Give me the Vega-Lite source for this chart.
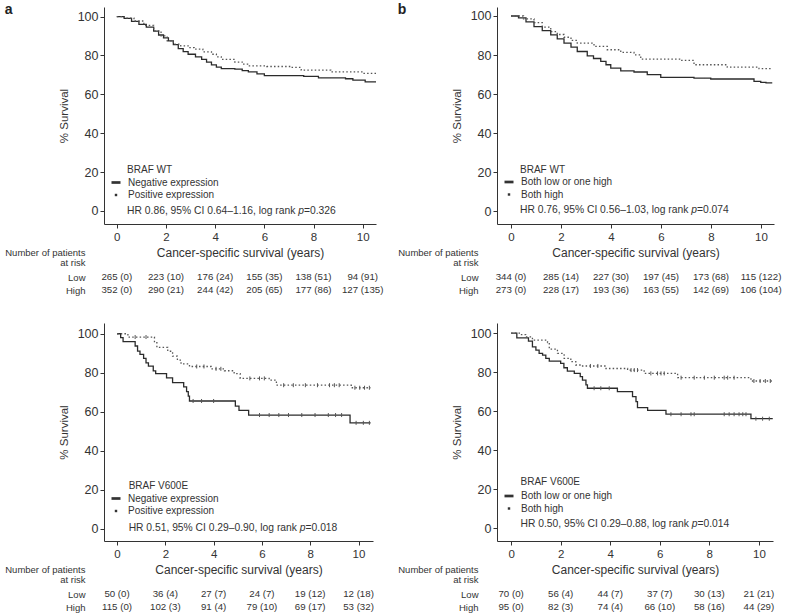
{
  "$schema": "https://vega.github.io/schema/vega-lite/v6.json",
  "background": "white",
  "padding": {"left": 4, "top": 3, "right": 0, "bottom": 0},
  "config": {
    "font": "Liberation Sans",
    "view": {"stroke": null},
    "axis": {"grid": false, "domainColor": "#333", "tickColor": "#333", "labelColor": "#333", "titleColor": "#333", "tickSize": 4, "titleFontWeight": "normal", "labelFont": "Liberation Sans", "titleFont": "Liberation Sans"},
    "legend": {"symbolSize": 81, "symbolStrokeWidth": 0, "symbolFillColor": "#333", "symbolOpacity": 1, "labelFontSize": 10, "labelOffset": 7, "rowPadding": 2.5, "padding": 0, "labelColor": "#333", "labelFont": "Liberation Sans"},
    "text": {"font": "Liberation Sans", "color": "#333"},
    "title": {"font": "Liberation Sans", "color": "#222"}
  },
  "datasets": {
    "ka1": [
      {"t":0,"s":100,"g":"Negative expression"},{"t":0.3,"s":99,"g":"Negative expression"},{"t":0.6,"s":97.5,"g":"Negative expression"},{"t":0.9,"s":96,"g":"Negative expression"},{"t":1.2,"s":94.5,"g":"Negative expression"},{"t":1.5,"s":92.5,"g":"Negative expression"},{"t":1.7,"s":90.5,"g":"Negative expression"},{"t":1.9,"s":89,"g":"Negative expression"},{"t":2.1,"s":87.5,"g":"Negative expression"},{"t":2.3,"s":85.5,"g":"Negative expression"},{"t":2.5,"s":83.5,"g":"Negative expression"},{"t":2.7,"s":82,"g":"Negative expression"},{"t":2.9,"s":80.6,"g":"Negative expression"},{"t":3.2,"s":79.3,"g":"Negative expression"},{"t":3.45,"s":78,"g":"Negative expression"},{"t":3.65,"s":76.5,"g":"Negative expression"},{"t":3.85,"s":75.1,"g":"Negative expression"},{"t":4.05,"s":74,"g":"Negative expression"},{"t":4.25,"s":73.2,"g":"Negative expression"},{"t":4.8,"s":72.9,"g":"Negative expression"},{"t":5.1,"s":72.2,"g":"Negative expression"},{"t":5.35,"s":71.5,"g":"Negative expression"},{"t":5.7,"s":70.5,"g":"Negative expression"},{"t":6.0,"s":69.6,"g":"Negative expression"},{"t":7.6,"s":69.2,"g":"Negative expression"},{"t":8.2,"s":68.5,"g":"Negative expression"},{"t":9.3,"s":68.0,"g":"Negative expression"},{"t":9.6,"s":67.3,"g":"Negative expression"},{"t":10.1,"s":66.4,"g":"Negative expression"},{"t":10.54,"s":66.4,"g":"Negative expression"},
      {"t":0,"s":100,"g":"Positive expression"},{"t":0.3,"s":99.2,"g":"Positive expression"},{"t":0.7,"s":97.7,"g":"Positive expression"},{"t":1.1,"s":95.5,"g":"Positive expression"},{"t":1.5,"s":92.6,"g":"Positive expression"},{"t":1.8,"s":90,"g":"Positive expression"},{"t":2.05,"s":87.5,"g":"Positive expression"},{"t":2.3,"s":85.8,"g":"Positive expression"},{"t":2.6,"s":84.9,"g":"Positive expression"},{"t":2.9,"s":84,"g":"Positive expression"},{"t":3.15,"s":83.2,"g":"Positive expression"},{"t":3.5,"s":81.8,"g":"Positive expression"},{"t":3.85,"s":80.6,"g":"Positive expression"},{"t":4.05,"s":79.3,"g":"Positive expression"},{"t":4.25,"s":78,"g":"Positive expression"},{"t":4.8,"s":76.6,"g":"Positive expression"},{"t":5.1,"s":75.5,"g":"Positive expression"},{"t":5.35,"s":74.6,"g":"Positive expression"},{"t":6.1,"s":74.3,"g":"Positive expression"},{"t":7.1,"s":73.8,"g":"Positive expression"},{"t":7.5,"s":72.4,"g":"Positive expression"},{"t":8.7,"s":71.5,"g":"Positive expression"},{"t":10.0,"s":70.8,"g":"Positive expression"},{"t":10.54,"s":70.8,"g":"Positive expression"}
    ],
    "kb1": [
      {"t":0,"s":100,"g":"Both low or one high"},{"t":0.3,"s":99,"g":"Both low or one high"},{"t":0.6,"s":97,"g":"Both low or one high"},{"t":0.92,"s":94.5,"g":"Both low or one high"},{"t":1.25,"s":92.5,"g":"Both low or one high"},{"t":1.59,"s":90.3,"g":"Both low or one high"},{"t":1.85,"s":88.3,"g":"Both low or one high"},{"t":2.12,"s":86.1,"g":"Both low or one high"},{"t":2.4,"s":84,"g":"Both low or one high"},{"t":2.65,"s":81.8,"g":"Both low or one high"},{"t":3.05,"s":79.6,"g":"Both low or one high"},{"t":3.3,"s":78.2,"g":"Both low or one high"},{"t":3.59,"s":76.7,"g":"Both low or one high"},{"t":3.8,"s":75,"g":"Both low or one high"},{"t":3.99,"s":73.3,"g":"Both low or one high"},{"t":4.39,"s":71.9,"g":"Both low or one high"},{"t":4.92,"s":71.3,"g":"Both low or one high"},{"t":5.45,"s":69.9,"g":"Both low or one high"},{"t":5.99,"s":68.5,"g":"Both low or one high"},{"t":7.32,"s":68.2,"g":"Both low or one high"},{"t":7.99,"s":67.7,"g":"Both low or one high"},{"t":9.72,"s":66.5,"g":"Both low or one high"},{"t":9.99,"s":66,"g":"Both low or one high"},{"t":10.2,"s":65.7,"g":"Both low or one high"},{"t":10.45,"s":65.7,"g":"Both low or one high"},
      {"t":0,"s":100,"g":"Both high"},{"t":0.5,"s":98.5,"g":"Both high"},{"t":0.92,"s":96.6,"g":"Both high"},{"t":1.25,"s":94.3,"g":"Both high"},{"t":1.59,"s":92,"g":"Both high"},{"t":1.85,"s":90.5,"g":"Both high"},{"t":2.12,"s":89.1,"g":"Both high"},{"t":2.4,"s":87.5,"g":"Both high"},{"t":2.65,"s":86.1,"g":"Both high"},{"t":3.32,"s":84.4,"g":"Both high"},{"t":3.85,"s":82.7,"g":"Both high"},{"t":4.39,"s":81.3,"g":"Both high"},{"t":4.92,"s":80.1,"g":"Both high"},{"t":5.19,"s":77.9,"g":"Both high"},{"t":6.79,"s":77.2,"g":"Both high"},{"t":7.32,"s":75,"g":"Both high"},{"t":8.65,"s":73.8,"g":"Both high"},{"t":9.92,"s":73,"g":"Both high"},{"t":10.45,"s":73,"g":"Both high"}
    ],
    "ka2": [
      {"t":0,"s":100,"g":"Negative expression"},{"t":0.15,"s":98,"g":"Negative expression"},{"t":0.25,"s":95.9,"g":"Negative expression"},{"t":0.75,"s":93.7,"g":"Negative expression"},{"t":0.85,"s":91.1,"g":"Negative expression"},{"t":0.95,"s":89.4,"g":"Negative expression"},{"t":1.1,"s":87.4,"g":"Negative expression"},{"t":1.2,"s":85.1,"g":"Negative expression"},{"t":1.3,"s":83.4,"g":"Negative expression"},{"t":1.5,"s":80.9,"g":"Negative expression"},{"t":1.6,"s":79.5,"g":"Negative expression"},{"t":2.05,"s":77.4,"g":"Negative expression"},{"t":2.3,"s":74.9,"g":"Negative expression"},{"t":2.76,"s":72.7,"g":"Negative expression"},{"t":2.88,"s":70.3,"g":"Negative expression"},{"t":2.95,"s":68,"g":"Negative expression"},{"t":3.0,"s":65.5,"g":"Negative expression"},{"t":4.9,"s":62.9,"g":"Negative expression"},{"t":5.05,"s":60.7,"g":"Negative expression"},{"t":5.45,"s":58.3,"g":"Negative expression"},{"t":9.65,"s":54.3,"g":"Negative expression"},{"t":10.5,"s":54.3,"g":"Negative expression"},
      {"t":0,"s":100,"g":"Positive expression"},{"t":0.45,"s":98.3,"g":"Positive expression"},{"t":1.55,"s":95.4,"g":"Positive expression"},{"t":1.65,"s":93,"g":"Positive expression"},{"t":2.1,"s":91,"g":"Positive expression"},{"t":2.3,"s":88.5,"g":"Positive expression"},{"t":2.5,"s":86.5,"g":"Positive expression"},{"t":2.65,"s":84.5,"g":"Positive expression"},{"t":3.0,"s":83.2,"g":"Positive expression"},{"t":3.9,"s":82,"g":"Positive expression"},{"t":4.45,"s":81,"g":"Positive expression"},{"t":4.85,"s":79.5,"g":"Positive expression"},{"t":5.1,"s":77.1,"g":"Positive expression"},{"t":6.3,"s":76.2,"g":"Positive expression"},{"t":6.6,"s":73.6,"g":"Positive expression"},{"t":9.7,"s":72.3,"g":"Positive expression"},{"t":10.5,"s":72.3,"g":"Positive expression"}
    ],
    "kb2": [
      {"t":0,"s":100,"g":"Both low or one high"},{"t":0.23,"s":97.6,"g":"Both low or one high"},{"t":0.7,"s":95.9,"g":"Both low or one high"},{"t":0.86,"s":93,"g":"Both low or one high"},{"t":1.0,"s":91.3,"g":"Both low or one high"},{"t":1.13,"s":89.6,"g":"Both low or one high"},{"t":1.27,"s":88.8,"g":"Both low or one high"},{"t":1.4,"s":87.1,"g":"Both low or one high"},{"t":1.54,"s":85.7,"g":"Both low or one high"},{"t":2.0,"s":84.5,"g":"Both low or one high"},{"t":2.13,"s":82.3,"g":"Both low or one high"},{"t":2.27,"s":80.6,"g":"Both low or one high"},{"t":2.55,"s":79.4,"g":"Both low or one high"},{"t":2.79,"s":77.7,"g":"Both low or one high"},{"t":2.88,"s":76,"g":"Both low or one high"},{"t":3.02,"s":73.5,"g":"Both low or one high"},{"t":3.08,"s":71.8,"g":"Both low or one high"},{"t":4.29,"s":70.1,"g":"Both low or one high"},{"t":4.9,"s":67.5,"g":"Both low or one high"},{"t":5.04,"s":65,"g":"Both low or one high"},{"t":5.1,"s":61.9,"g":"Both low or one high"},{"t":5.51,"s":60.5,"g":"Both low or one high"},{"t":6.25,"s":58.5,"g":"Both low or one high"},{"t":9.68,"s":56.2,"g":"Both low or one high"},{"t":10.56,"s":56.2,"g":"Both low or one high"},
      {"t":0,"s":100,"g":"Both high"},{"t":0.39,"s":99.3,"g":"Both high"},{"t":0.59,"s":98.1,"g":"Both high"},{"t":0.86,"s":96.4,"g":"Both high"},{"t":1.47,"s":95.2,"g":"Both high"},{"t":1.54,"s":91.8,"g":"Both high"},{"t":1.87,"s":89.6,"g":"Both high"},{"t":2.14,"s":87.1,"g":"Both high"},{"t":2.41,"s":85.4,"g":"Both high"},{"t":2.61,"s":83.7,"g":"Both high"},{"t":2.82,"s":83.2,"g":"Both high"},{"t":3.83,"s":81.9,"g":"Both high"},{"t":4.7,"s":81.1,"g":"Both high"},{"t":5.37,"s":79.4,"g":"Both high"},{"t":6.72,"s":77.2,"g":"Both high"},{"t":9.68,"s":75.5,"g":"Both high"},{"t":10.56,"s":75.5,"g":"Both high"}
    ],
    "ca2": [
      {"t":3.15,"s":65.5},{"t":3.5,"s":65.5},{"t":4.0,"s":65.5},{"t":5.9,"s":58.3},{"t":6.3,"s":58.3},{"t":6.7,"s":58.3},{"t":7.1,"s":58.3},{"t":7.65,"s":58.3},{"t":8.2,"s":58.3},{"t":8.75,"s":58.3},{"t":9.05,"s":58.3},{"t":9.3,"s":58.3},{"t":9.9,"s":54.3},{"t":10.2,"s":54.3},{"t":10.45,"s":54.3},
      {"t":0.75,"s":98.3},{"t":1.2,"s":98.3},{"t":3.3,"s":83.2},{"t":3.6,"s":83.2},{"t":4.1,"s":82},{"t":4.3,"s":82},{"t":5.5,"s":77.1},{"t":5.9,"s":77.1},{"t":6.1,"s":77.1},{"t":6.9,"s":73.6},{"t":7.3,"s":73.6},{"t":7.8,"s":73.6},{"t":8.3,"s":73.6},{"t":8.8,"s":73.6},{"t":9.0,"s":73.6},{"t":9.2,"s":73.6},{"t":9.85,"s":72.3},{"t":10.05,"s":72.3},{"t":10.25,"s":72.3},{"t":10.45,"s":72.3}
    ],
    "cb2": [
      {"t":3.35,"s":71.8},{"t":3.62,"s":71.8},{"t":3.96,"s":71.8},{"t":6.45,"s":58.5},{"t":6.86,"s":58.5},{"t":7.26,"s":58.5},{"t":7.39,"s":58.5},{"t":8.6,"s":58.5},{"t":8.8,"s":58.5},{"t":9.0,"s":58.5},{"t":9.2,"s":58.5},{"t":9.35,"s":58.5},{"t":9.48,"s":58.5},{"t":9.88,"s":56.2},{"t":10.15,"s":56.2},{"t":10.42,"s":56.2},
      {"t":3.2,"s":83.2},{"t":3.5,"s":83.2},{"t":4.84,"s":81.1},{"t":4.97,"s":81.1},{"t":5.1,"s":81.1},{"t":5.64,"s":79.4},{"t":5.91,"s":79.4},{"t":6.05,"s":79.4},{"t":6.18,"s":79.4},{"t":6.86,"s":77.2},{"t":7.39,"s":77.2},{"t":7.8,"s":77.2},{"t":8.2,"s":77.2},{"t":8.6,"s":77.2},{"t":8.74,"s":77.2},{"t":9.0,"s":77.2},{"t":9.8,"s":75.5},{"t":10.05,"s":75.5},{"t":10.26,"s":75.5},{"t":10.46,"s":75.5}
    ],
    "ra1": [
      {"row":"Low","t":0,"n":"265 (0)"},{"row":"Low","t":2,"n":"223 (10)"},{"row":"Low","t":4,"n":"176 (24)"},{"row":"Low","t":6,"n":"155 (35)"},{"row":"Low","t":8,"n":"138 (51)"},{"row":"Low","t":10,"n":"94 (91)"},
      {"row":"High","t":0,"n":"352 (0)"},{"row":"High","t":2,"n":"290 (21)"},{"row":"High","t":4,"n":"244 (42)"},{"row":"High","t":6,"n":"205 (65)"},{"row":"High","t":8,"n":"177 (86)"},{"row":"High","t":10,"n":"127 (135)"}
    ],
    "rb1": [
      {"row":"Low","t":0,"n":"344 (0)"},{"row":"Low","t":2,"n":"285 (14)"},{"row":"Low","t":4,"n":"227 (30)"},{"row":"Low","t":6,"n":"197 (45)"},{"row":"Low","t":8,"n":"173 (68)"},{"row":"Low","t":10,"n":"115 (122)"},
      {"row":"High","t":0,"n":"273 (0)"},{"row":"High","t":2,"n":"228 (17)"},{"row":"High","t":4,"n":"193 (36)"},{"row":"High","t":6,"n":"163 (55)"},{"row":"High","t":8,"n":"142 (69)"},{"row":"High","t":10,"n":"106 (104)"}
    ],
    "ra2": [
      {"row":"Low","t":0,"n":"50 (0)"},{"row":"Low","t":2,"n":"36 (4)"},{"row":"Low","t":4,"n":"27 (7)"},{"row":"Low","t":6,"n":"24 (7)"},{"row":"Low","t":8,"n":"19 (12)"},{"row":"Low","t":10,"n":"12 (18)"},
      {"row":"High","t":0,"n":"115 (0)"},{"row":"High","t":2,"n":"102 (3)"},{"row":"High","t":4,"n":"91 (4)"},{"row":"High","t":6,"n":"79 (10)"},{"row":"High","t":8,"n":"69 (17)"},{"row":"High","t":10,"n":"53 (32)"}
    ],
    "rb2": [
      {"row":"Low","t":0,"n":"70 (0)"},{"row":"Low","t":2,"n":"56 (4)"},{"row":"Low","t":4,"n":"44 (7)"},{"row":"Low","t":6,"n":"37 (7)"},{"row":"Low","t":8,"n":"30 (13)"},{"row":"Low","t":10,"n":"21 (21)"},
      {"row":"High","t":0,"n":"95 (0)"},{"row":"High","t":2,"n":"82 (3)"},{"row":"High","t":4,"n":"74 (4)"},{"row":"High","t":6,"n":"66 (10)"},{"row":"High","t":8,"n":"58 (16)"},{"row":"High","t":10,"n":"44 (29)"}
    ]
  },
  "resolve": {"scale": {"shape": "independent"}, "legend": {"shape": "independent"}},
  "spacing": 13,
  "hconcat": [
    {
      "title": {"text": "a", "anchor": "start", "frame": "bounds", "fontSize": 14, "fontWeight": "bold", "offset": -10},
      "resolve": {"scale": {"shape": "independent"}, "legend": {"shape": "independent"}},
      "spacing": 26,
      "vconcat": [
        {
          "resolve": {"scale": {"shape": "independent"}, "legend": {"shape": "independent"}},
          "spacing": -11.5,
          "vconcat": [
            {
              "width": 272, "height": 217,
              "layer": [
                {"data": {"name": "ka1"},
                 "mark": {"type": "line", "interpolate": "step-after", "strokeWidth": 1.3},
                 "encoding": {
                   "x": {"field": "t", "type": "quantitative", "scale": {"domain": [-0.52, 10.54], "nice": false, "zero": false}, "axis": {"values": [0,2,4,6,8,10], "title": "Cancer-specific survival (years)", "labelFontSize": 11.5, "titleFontSize": 12, "labelPadding": 3.5, "titlePadding": 4}},
                   "y": {"field": "s", "type": "quantitative", "scale": {"domain": [-6.7, 104.9], "nice": false, "zero": false}, "axis": {"values": [0,20,40,60,80,100], "title": "% Survival", "labelFontSize": 12.5, "titleFontSize": 11.5, "labelPadding": 2, "titlePadding": 7.5}},
                   "detail": {"field": "g", "type": "nominal"},
                   "color": {"condition": {"test": "datum.g == 'Positive expression' || datum.g == 'Both high'", "value": "#555555"}, "value": "#2b2b2b"},
                   "strokeDash": {"condition": {"test": "datum.g == 'Positive expression' || datum.g == 'Both high'", "value": [1.5, 2.2]}, "value": [1, 0]}
                 }},
                {"data": {"name": "ka1"},
                 "mark": {"type": "point", "filled": true, "opacity": 0, "color": "#333"},
                 "encoding": {
                   "x": {"field": "t", "type": "quantitative"},
                   "y": {"field": "s", "type": "quantitative"},
                   "shape": {"field": "g", "type": "nominal", "scale": {"domain": ["Negative expression", "Positive expression"], "range": ["M-1,-0.3H1V0.3H-1Z", "M-0.27,-0.27H0.27V0.27H-0.27Z"]},
                     "legend": {"orient": "none", "legendX": 7, "legendY": 170.5, "title": null}}
                 }},
                {"data": {"values": [{"label": "BRAF WT"}]}, "mark": {"type": "text", "align": "left", "baseline": "middle", "fontSize": 10}, "encoding": {"x": {"datum": 0.42}, "y": {"datum": 21.1}, "text": {"field": "label"}}},
                {"data": {"values": [{"label": "HR 0.86, 95% CI 0.64–1.16, log rank"}]}, "mark": {"type": "text", "align": "left", "baseline": "middle", "fontSize": 10.3}, "encoding": {"x": {"datum": 0.42}, "y": {"datum": 0}, "text": {"field": "label"}}},
                {"data": {"values": [{"label": "p"}]}, "mark": {"type": "text", "align": "left", "baseline": "middle", "fontSize": 10.3, "fontStyle": "italic", "dx": 171.2}, "encoding": {"x": {"datum": 0.42}, "y": {"datum": 0}, "text": {"field": "label"}}},
                {"data": {"values": [{"label": "=0.326"}]}, "mark": {"type": "text", "align": "left", "baseline": "middle", "fontSize": 10.3, "dx": 176.9}, "encoding": {"x": {"datum": 0.42}, "y": {"datum": 0}, "text": {"field": "label"}}}
              ]
            },
            {
              "width": 272, "height": 26,
              "data": {"name": "ra1"},
              "mark": {"type": "text", "fontSize": 9.7, "baseline": "middle"},
              "encoding": {
                "x": {"field": "t", "type": "quantitative", "scale": {"domain": [-0.52, 10.54], "nice": false, "zero": false}, "axis": null},
                "y": {"field": "row", "type": "nominal", "scale": {"type": "point", "domain": ["Low", "High"], "padding": 0.5},
                  "axis": {"title": ["Number of patients", "at risk"], "domain": false, "ticks": false, "labelPadding": 19, "labelFontSize": 9.5, "titleAngle": 0, "titleAlign": "right", "titleBaseline": "alphabetic", "titleX": -19, "titleY": -15.5, "titleFontSize": 9.5, "titleLineHeight": 10.5}},
                "text": {"field": "n"}
              }
            }
          ]
        },
        {
          "resolve": {"scale": {"shape": "independent"}, "legend": {"shape": "independent"}},
          "spacing": -11.5,
          "vconcat": [
            {
              "width": 269, "height": 218,
              "layer": [
                {"data": {"name": "ka2"},
                 "mark": {"type": "line", "interpolate": "step-after", "strokeWidth": 1.3},
                 "encoding": {
                   "x": {"field": "t", "type": "quantitative", "scale": {"domain": [-0.54, 10.6], "nice": false, "zero": false}, "axis": {"values": [0,2,4,6,8,10], "title": "Cancer-specific survival (years)", "labelFontSize": 11.5, "titleFontSize": 12, "labelPadding": 3.5, "titlePadding": 4}},
                   "y": {"field": "s", "type": "quantitative", "scale": {"domain": [-6.3, 105.5], "nice": false, "zero": false}, "axis": {"values": [0,20,40,60,80,100], "title": "% Survival", "labelFontSize": 12.5, "titleFontSize": 11.5, "labelPadding": 2, "titlePadding": 7.5}},
                   "detail": {"field": "g", "type": "nominal"},
                   "color": {"condition": {"test": "datum.g == 'Positive expression' || datum.g == 'Both high'", "value": "#555555"}, "value": "#2b2b2b"},
                   "strokeDash": {"condition": {"test": "datum.g == 'Positive expression' || datum.g == 'Both high'", "value": [1.5, 2.2]}, "value": [1, 0]}
                 }},
                {"data": {"name": "ca2"},
                 "mark": {"type": "point", "shape": "M0,-1V1", "size": 16, "strokeWidth": 1, "color": "#555", "opacity": 1},
                 "encoding": {"x": {"field": "t", "type": "quantitative"}, "y": {"field": "s", "type": "quantitative"}}},
                {"data": {"name": "ka2"},
                 "mark": {"type": "point", "filled": true, "opacity": 0, "color": "#333"},
                 "encoding": {
                   "x": {"field": "t", "type": "quantitative"},
                   "y": {"field": "s", "type": "quantitative"},
                   "shape": {"field": "g", "type": "nominal", "scale": {"domain": ["Negative expression", "Positive expression"], "range": ["M-1,-0.3H1V0.3H-1Z", "M-0.27,-0.27H0.27V0.27H-0.27Z"]},
                     "legend": {"orient": "none", "legendX": 7, "legendY": 170.5, "title": null}}
                 }},
                {"data": {"values": [{"label": "BRAF V600E"}]}, "mark": {"type": "text", "align": "left", "baseline": "middle", "fontSize": 10}, "encoding": {"x": {"datum": 0.48}, "y": {"datum": 21.9}, "text": {"field": "label"}}},
                {"data": {"values": [{"label": "HR 0.51, 95% CI 0.29–0.90, log rank"}]}, "mark": {"type": "text", "align": "left", "baseline": "middle", "fontSize": 10.3}, "encoding": {"x": {"datum": 0.48}, "y": {"datum": 0.5}, "text": {"field": "label"}}},
                {"data": {"values": [{"label": "p"}]}, "mark": {"type": "text", "align": "left", "baseline": "middle", "fontSize": 10.3, "fontStyle": "italic", "dx": 171.2}, "encoding": {"x": {"datum": 0.48}, "y": {"datum": 0.5}, "text": {"field": "label"}}},
                {"data": {"values": [{"label": "=0.018"}]}, "mark": {"type": "text", "align": "left", "baseline": "middle", "fontSize": 10.3, "dx": 176.9}, "encoding": {"x": {"datum": 0.48}, "y": {"datum": 0.5}, "text": {"field": "label"}}}
              ]
            },
            {
              "width": 269, "height": 26,
              "data": {"name": "ra2"},
              "mark": {"type": "text", "fontSize": 9.7, "baseline": "middle"},
              "encoding": {
                "x": {"field": "t", "type": "quantitative", "scale": {"domain": [-0.54, 10.6], "nice": false, "zero": false}, "axis": null},
                "y": {"field": "row", "type": "nominal", "scale": {"type": "point", "domain": ["Low", "High"], "padding": 0.5},
                  "axis": {"title": ["Number of patients", "at risk"], "domain": false, "ticks": false, "labelPadding": 19, "labelFontSize": 9.5, "titleAngle": 0, "titleAlign": "right", "titleBaseline": "alphabetic", "titleX": -19, "titleY": -15.5, "titleFontSize": 9.5, "titleLineHeight": 10.5}},
                "text": {"field": "n"}
              }
            }
          ]
        }
      ]
    },
    {
      "title": {"text": "b", "anchor": "start", "frame": "bounds", "fontSize": 14, "fontWeight": "bold", "offset": -10},
      "resolve": {"scale": {"shape": "independent"}, "legend": {"shape": "independent"}},
      "spacing": 26,
      "vconcat": [
        {
          "resolve": {"scale": {"shape": "independent"}, "legend": {"shape": "independent"}},
          "spacing": -11.5,
          "vconcat": [
            {
              "width": 277, "height": 217,
              "layer": [
                {"data": {"name": "kb1"},
                 "mark": {"type": "line", "interpolate": "step-after", "strokeWidth": 1.3},
                 "encoding": {
                   "x": {"field": "t", "type": "quantitative", "scale": {"domain": [-0.56, 10.52], "nice": false, "zero": false}, "axis": {"values": [0,2,4,6,8,10], "title": "Cancer-specific survival (years)", "labelFontSize": 11.5, "titleFontSize": 12, "labelPadding": 3.5, "titlePadding": 4}},
                   "y": {"field": "s", "type": "quantitative", "scale": {"domain": [-6.6, 104.6], "nice": false, "zero": false}, "axis": {"values": [0,20,40,60,80,100], "title": "% Survival", "labelFontSize": 12.5, "titleFontSize": 11.5, "labelPadding": 2, "titlePadding": 7.5}},
                   "detail": {"field": "g", "type": "nominal"},
                   "color": {"condition": {"test": "datum.g == 'Positive expression' || datum.g == 'Both high'", "value": "#555555"}, "value": "#2b2b2b"},
                   "strokeDash": {"condition": {"test": "datum.g == 'Positive expression' || datum.g == 'Both high'", "value": [1.5, 2.2]}, "value": [1, 0]}
                 }},
                {"data": {"name": "kb1"},
                 "mark": {"type": "point", "filled": true, "opacity": 0, "color": "#333"},
                 "encoding": {
                   "x": {"field": "t", "type": "quantitative"},
                   "y": {"field": "s", "type": "quantitative"},
                   "shape": {"field": "g", "type": "nominal", "scale": {"domain": ["Both low or one high", "Both high"], "range": ["M-1,-0.3H1V0.3H-1Z", "M-0.27,-0.27H0.27V0.27H-0.27Z"]},
                     "legend": {"orient": "none", "legendX": 7, "legendY": 170, "title": null}}
                 }},
                {"data": {"values": [{"label": "BRAF WT"}]}, "mark": {"type": "text", "align": "left", "baseline": "middle", "fontSize": 10}, "encoding": {"x": {"datum": 0.36}, "y": {"datum": 21.1}, "text": {"field": "label"}}},
                {"data": {"values": [{"label": "HR 0.76, 95% CI 0.56–1.03, log rank"}]}, "mark": {"type": "text", "align": "left", "baseline": "middle", "fontSize": 10.3}, "encoding": {"x": {"datum": 0.36}, "y": {"datum": 0.5}, "text": {"field": "label"}}},
                {"data": {"values": [{"label": "p"}]}, "mark": {"type": "text", "align": "left", "baseline": "middle", "fontSize": 10.3, "fontStyle": "italic", "dx": 171.2}, "encoding": {"x": {"datum": 0.36}, "y": {"datum": 0.5}, "text": {"field": "label"}}},
                {"data": {"values": [{"label": "=0.074"}]}, "mark": {"type": "text", "align": "left", "baseline": "middle", "fontSize": 10.3, "dx": 176.9}, "encoding": {"x": {"datum": 0.36}, "y": {"datum": 0.5}, "text": {"field": "label"}}}
              ]
            },
            {
              "width": 277, "height": 26,
              "data": {"name": "rb1"},
              "mark": {"type": "text", "fontSize": 9.7, "baseline": "middle"},
              "encoding": {
                "x": {"field": "t", "type": "quantitative", "scale": {"domain": [-0.56, 10.52], "nice": false, "zero": false}, "axis": null},
                "y": {"field": "row", "type": "nominal", "scale": {"type": "point", "domain": ["Low", "High"], "padding": 0.5},
                  "axis": {"title": ["Number of patients", "at risk"], "domain": false, "ticks": false, "labelPadding": 19, "labelFontSize": 9.5, "titleAngle": 0, "titleAlign": "right", "titleBaseline": "alphabetic", "titleX": -19, "titleY": -15.5, "titleFontSize": 9.5, "titleLineHeight": 10.5}},
                "text": {"field": "n"}
              }
            }
          ]
        },
        {
          "resolve": {"scale": {"shape": "independent"}, "legend": {"shape": "independent"}},
          "spacing": -11.5,
          "vconcat": [
            {
              "width": 276, "height": 218,
              "layer": [
                {"data": {"name": "kb2"},
                 "mark": {"type": "line", "interpolate": "step-after", "strokeWidth": 1.3},
                 "encoding": {
                   "x": {"field": "t", "type": "quantitative", "scale": {"domain": [-0.57, 10.57], "nice": false, "zero": false}, "axis": {"values": [0,2,4,6,8,10], "title": "Cancer-specific survival (years)", "labelFontSize": 11.5, "titleFontSize": 12, "labelPadding": 3.5, "titlePadding": 4}},
                   "y": {"field": "s", "type": "quantitative", "scale": {"domain": [-6.4, 105.2], "nice": false, "zero": false}, "axis": {"values": [0,20,40,60,80,100], "title": "% Survival", "labelFontSize": 12.5, "titleFontSize": 11.5, "labelPadding": 2, "titlePadding": 7.5}},
                   "detail": {"field": "g", "type": "nominal"},
                   "color": {"condition": {"test": "datum.g == 'Positive expression' || datum.g == 'Both high'", "value": "#555555"}, "value": "#2b2b2b"},
                   "strokeDash": {"condition": {"test": "datum.g == 'Positive expression' || datum.g == 'Both high'", "value": [1.5, 2.2]}, "value": [1, 0]}
                 }},
                {"data": {"name": "cb2"},
                 "mark": {"type": "point", "shape": "M0,-1V1", "size": 16, "strokeWidth": 1, "color": "#555", "opacity": 1},
                 "encoding": {"x": {"field": "t", "type": "quantitative"}, "y": {"field": "s", "type": "quantitative"}}},
                {"data": {"name": "kb2"},
                 "mark": {"type": "point", "filled": true, "opacity": 0, "color": "#333"},
                 "encoding": {
                   "x": {"field": "t", "type": "quantitative"},
                   "y": {"field": "s", "type": "quantitative"},
                   "shape": {"field": "g", "type": "nominal", "scale": {"domain": ["Both low or one high", "Both high"], "range": ["M-1,-0.3H1V0.3H-1Z", "M-0.27,-0.27H0.27V0.27H-0.27Z"]},
                     "legend": {"orient": "none", "legendX": 7, "legendY": 168, "title": null}}
                 }},
                {"data": {"values": [{"label": "BRAF V600E"}]}, "mark": {"type": "text", "align": "left", "baseline": "middle", "fontSize": 10}, "encoding": {"x": {"datum": 0.38}, "y": {"datum": 23.8}, "text": {"field": "label"}}},
                {"data": {"values": [{"label": "HR 0.50, 95% CI 0.29–0.88, log rank"}]}, "mark": {"type": "text", "align": "left", "baseline": "middle", "fontSize": 10.3}, "encoding": {"x": {"datum": 0.38}, "y": {"datum": 2.3}, "text": {"field": "label"}}},
                {"data": {"values": [{"label": "p"}]}, "mark": {"type": "text", "align": "left", "baseline": "middle", "fontSize": 10.3, "fontStyle": "italic", "dx": 171.2}, "encoding": {"x": {"datum": 0.38}, "y": {"datum": 2.3}, "text": {"field": "label"}}},
                {"data": {"values": [{"label": "=0.014"}]}, "mark": {"type": "text", "align": "left", "baseline": "middle", "fontSize": 10.3, "dx": 176.9}, "encoding": {"x": {"datum": 0.38}, "y": {"datum": 2.3}, "text": {"field": "label"}}}
              ]
            },
            {
              "width": 276, "height": 26,
              "data": {"name": "rb2"},
              "mark": {"type": "text", "fontSize": 9.7, "baseline": "middle"},
              "encoding": {
                "x": {"field": "t", "type": "quantitative", "scale": {"domain": [-0.57, 10.57], "nice": false, "zero": false}, "axis": null},
                "y": {"field": "row", "type": "nominal", "scale": {"type": "point", "domain": ["Low", "High"], "padding": 0.5},
                  "axis": {"title": ["Number of patients", "at risk"], "domain": false, "ticks": false, "labelPadding": 19, "labelFontSize": 9.5, "titleAngle": 0, "titleAlign": "right", "titleBaseline": "alphabetic", "titleX": -19, "titleY": -15.5, "titleFontSize": 9.5, "titleLineHeight": 10.5}},
                "text": {"field": "n"}
              }
            }
          ]
        }
      ]
    }
  ]
}
